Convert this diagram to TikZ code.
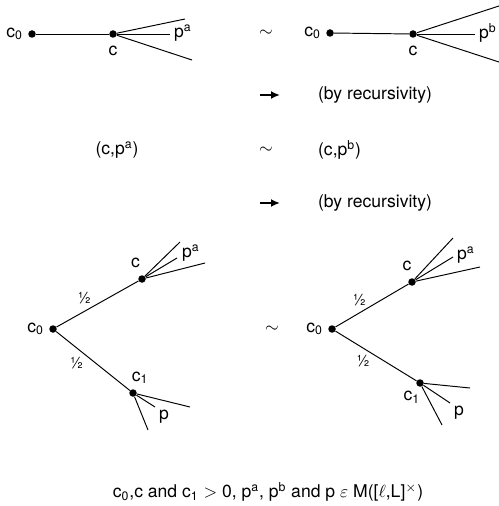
\documentclass[tikz,border=0pt]{standalone}
\usepackage{fontspec}
\setmainfont{TeX Gyre Heros}
\usetikzlibrary{positioning, arrows.meta}

\begin{document}
\begin{tikzpicture}[
        x=0.02cm, y=-0.02cm,
        node distance=0.06cm and 0.06cm,
        every node/.style={font=\fontsize{10}{12}\selectfont, inner sep=1pt},
        dot/.style={circle, fill, inner sep=0pt, minimum size=0.15cm},
        branch/.style={line width=0.55pt},
        half/.style={font=\fontsize{9}{10}\selectfont, inner sep=1pt},
        arrow/.style={-{Latex[length=1.8mm, width=1.6mm]}, line width=1.3pt}
    ]
        \useasboundingbox (0,0) rectangle (499,506);

        % Top left: c0 -- c, then p^a
        \node[dot] (c0a) at (32,34) {};
        \node[dot] (ca) at (113,34) {};
        \coordinate (ea1) at (185,19);
        \coordinate (ea2) at (170,34);
        \coordinate (ea3) at (192,60);
        \node (c0a_label) [left=of c0a] {c\textsubscript{0}};
        \node (ca_label) [below=0.12cm of ca] {c};
        \node (pa_top) [right=0.04cm of ea2, yshift=0.02cm] {p\textsuperscript{a}};

        \draw [branch] (c0a) -- (ca);
        \draw [branch] (ca) -- (ea1);
        \draw [branch] (ca) -- (ea2);
        \draw [branch] (ca) -- (ea3);

        \node (sim1) at (266,33) {$\sim$};

        % Top right: c0 -- c, then p^b
        \node[dot] (c0b) at (330,33) {};
        \node[dot] (cb) at (413,34) {};
        \coordinate (eb1) at (499,6);
        \coordinate (eb2) at (475,34);
        \coordinate (eb3) at (499,62);
        \node (c0b_label) [left=of c0b] {c\textsubscript{0}};
        \node (cb_label) [below=0.12cm of cb] {c};
        \node (pb_top) [right=0.04cm of eb2, yshift=0.02cm] {p\textsuperscript{b}};

        \draw [branch] (c0b) -- (cb);
        \draw [branch] (cb) -- (eb1);
        \draw [branch] (cb) -- (eb2);
        \draw [branch] (cb) -- (eb3);

        % First recursion step
        \coordinate (r1s) at (260,95);
        \coordinate (r1e) at (280,95);
        \draw [arrow] (r1s) -- (r1e);
        \node (rec1) [anchor=west] at (316,95) {(by recursivity)};

        % Middle row
        \node (cpa) at (117,150) {(c,p\textsuperscript{a})};
        \node (sim2) at (266,150) {$\sim$};
        \node (cpb) [anchor=west] at (316,150) {(c,p\textsuperscript{b})};

        % Second recursion step
        \coordinate (r2s) at (260,203);
        \coordinate (r2e) at (280,203);
        \draw [arrow] (r2s) -- (r2e);
        \node (rec2) [anchor=west] at (316,203) {(by recursivity)};

        % Bottom left tree
        \node[dot] (c0c) at (53,329) {};
        \node[dot] (cc) at (142,279) {};
        \node[dot] (c1c) at (133,393) {};
        \coordinate (ec1) at (180,242);
        \coordinate (ec2) at (177,258);
        \coordinate (ec3) at (205,263);
        \coordinate (ed1) at (190,407);
        \coordinate (ed2) at (155,407);
        \coordinate (ed3) at (148,430);
        \node (c0c_label) [left=of c0c] {c\textsubscript{0}};
        \node (cc_label) [above=0.1cm of cc, xshift=-0.13cm] {c};
        \node (c1c_label) [above=0.06cm of c1c, xshift=0.14cm] {c\textsubscript{1}};
        \node (pa_bl) [right=0.06cm of ec2, yshift=0.1cm] {p\textsuperscript{a}};
        \node (p_bl) [below right=0.02cm and 0.04cm of ed2] {p};

        \draw [branch] (c0c) -- node[half, above left, pos=0.45] {½} (cc);
        \draw [branch] (c0c) -- node[half, below left, pos=0.4] {½} (c1c);
        \draw [branch] (cc) -- (ec1);
        \draw [branch] (cc) -- (ec2);
        \draw [branch] (cc) -- (ec3);
        \draw [branch] (c1c) -- (ed1);
        \draw [branch] (c1c) -- (ed2);
        \draw [branch] (c1c) -- (ed3);

        \node (sim3) at (272,329) {$\sim$};

        % Bottom right tree
        \node[dot] (c0d) at (332,329) {};
        \node[dot] (cd) at (412,282) {};
        \node[dot] (c1d) at (420,383) {};
        \coordinate (ee1) at (453,238);
        \coordinate (ee2) at (453,257);
        \coordinate (ee3) at (480,267);
        \coordinate (ef1) at (470,388);
        \coordinate (ef2) at (450,403);
        \coordinate (ef3) at (442,425);
        \node (c0d_label) [left=of c0d] {c\textsubscript{0}};
        \node (cd_label) [above=0.1cm of cd, xshift=-0.1cm] {c};
        \node (c1d_label) [below left=0.06cm and -0.1cm of c1d] {c\textsubscript{1}};
        \node (pa_br) [right=0.04cm of ee2, yshift=0.04cm] {p\textsuperscript{a}};
        \node (p_br) [below right=0.02cm and 0.04cm of ef2] {p};

        \draw [branch] (c0d) -- node[half, above left, pos=0.45] {½} (cd);
        \draw [branch] (c0d) -- node[half, below left, pos=0.45] {½} (c1d);
        \draw [branch] (cd) -- (ee1);
        \draw [branch] (cd) -- (ee2);
        \draw [branch] (cd) -- (ee3);
        \draw [branch] (c1d) -- (ef1);
        \draw [branch] (c1d) -- (ef2);
        \draw [branch] (c1d) -- (ef3);

        % Caption
        \node (caption) at (268,492) {c\textsubscript{0},c and c\textsubscript{1} $>$ 0, p\textsuperscript{a}, p\textsuperscript{b} and p $\varepsilon$ M([$\ell$,L]\textsuperscript{$\times$})};
\end{tikzpicture}
\end{document}
